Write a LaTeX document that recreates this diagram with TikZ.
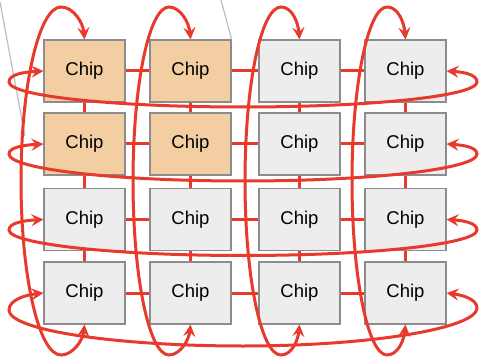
\documentclass[tikz,border=0pt]{standalone}
\usepackage{fontspec}
\setmainfont{Liberation Sans}
\usepackage{tikz}
\usetikzlibrary{arrows.meta,positioning}
\usepackage{xcolor}
\definecolor{chipgray}{RGB}{237,237,237}
\definecolor{chiporange}{RGB}{242,206,162}
\definecolor{chipedge}{RGB}{140,140,140}
\definecolor{torusred}{RGB}{232,58,44}
\definecolor{zoomgray}{RGB}{185,190,198}
\tikzstyle{chip} = [rectangle, minimum width=81pt, minimum height=62pt, inner sep=0pt, text centered, draw=chipedge, fill=chipgray, line width=1.2pt, font=\fontsize{18.5}{20}\selectfont]
\tikzstyle{hot} = [chip, fill=chiporange]
\tikzstyle{link} = [line width=3pt, color=torusred]
\tikzstyle{wrap} = [line width=3pt, color=torusred, {Stealth[length=12pt,width=12pt,inset=4.5pt]}-{Stealth[length=12pt,width=12pt,inset=4.5pt]}]
\tikzstyle{zoomline} = [line width=1.2pt, color=zoomgray]

\begin{document}
\begin{tikzpicture}[x=1pt,y=-1pt]
\useasboundingbox (0,0) rectangle (479,358);

% Chips
\node[hot] (c11) at (84.5,71) {Chip};
\node[hot] (c12) at (190.5,71) {Chip};
\node[chip] (c13) at (299.5,71) {Chip};
\node[chip] (c14) at (405.5,71) {Chip};
\node[hot] (c21) at (84.5,144) {Chip};
\node[hot] (c22) at (190.5,144) {Chip};
\node[chip] (c23) at (299.5,144) {Chip};
\node[chip] (c24) at (405.5,144) {Chip};
\node[chip] (c31) at (84.5,219.5) {Chip};
\node[chip] (c32) at (190.5,219.5) {Chip};
\node[chip] (c33) at (299.5,219.5) {Chip};
\node[chip] (c34) at (405.5,219.5) {Chip};
\node[chip] (c41) at (84.5,293) {Chip};
\node[chip] (c42) at (190.5,293) {Chip};
\node[chip] (c43) at (299.5,293) {Chip};
\node[chip] (c44) at (405.5,293) {Chip};

% Zoom lines
\coordinate (zl) at (0,2);
\coordinate (zlend) at (25,136);
\coordinate (zr) at (221,0);
\draw[zoomline] (zl) -- (zlend);
\draw[zoomline] (zr) -- (c12.north east);

% Mesh links
\draw[link] (c11) -- (c12) -- (c13) -- (c14);
\draw[link] (c21) -- (c22) -- (c23) -- (c24);
\draw[link] (c31) -- (c32) -- (c33) -- (c34);
\draw[link] (c41) -- (c42) -- (c43) -- (c44);
\draw[link] (c11) -- (c21) -- (c31) -- (c41);
\draw[link] (c12) -- (c22) -- (c32) -- (c42);
\draw[link] (c13) -- (c23) -- (c33) -- (c43);
\draw[link] (c14) -- (c24) -- (c34) -- (c44);

% Row wrap-arounds
\draw[wrap] (c11.west) .. controls (25,72) and (9,74) .. (9,82) .. controls (9,96) and (114,107) .. (243,107) .. controls (372,107) and (477,96) .. (477,82) .. controls (477,74) and (462,72) .. (c14.east);
\draw[wrap] (c21.west) .. controls (25,145) and (9,147) .. (9,154) .. controls (9,169) and (114,181) .. (243,181) .. controls (372,181) and (477,169) .. (477,154) .. controls (477,147) and (462,145) .. (c24.east);
\draw[wrap] (c31.west) .. controls (25,220.5) and (9,222.5) .. (9,230) .. controls (9,244) and (114,255.5) .. (243,255.5) .. controls (372,255.5) and (477,244) .. (477,230) .. controls (477,222.5) and (462,220.5) .. (c34.east);
\draw[wrap] (c41.west) .. controls (25,295) and (9,300) .. (9,310) .. controls (9,330) and (114,346) .. (243,346) .. controls (372,346) and (477,328) .. (477,308) .. controls (477,299) and (462,295) .. (c44.east);

% Column wrap-arounds
\draw[wrap] (c41.south) .. controls (83,340) and (73,355) .. (61,355) .. controls (39,355) and (21,277) .. (21,181) .. controls (21,85) and (39,7) .. (61,7) .. controls (73,7) and (83,22) .. (c11.north);
\draw[wrap] (c42.south) .. controls (189,340) and (180,355) .. (169,355) .. controls (149,355) and (133,277) .. (133,181) .. controls (133,85) and (149,7) .. (169,7) .. controls (180,7) and (189,22) .. (c12.north);
\draw[wrap] (c43.south) .. controls (298,340) and (292,355) .. (281,355) .. controls (261,355) and (245,277) .. (245,181) .. controls (245,85) and (261,7) .. (281,7) .. controls (292,7) and (298,22) .. (c13.north);
\draw[wrap] (c44.south) .. controls (404,340) and (398,355) .. (387,355) .. controls (368,355) and (352,277) .. (352,181) .. controls (352,85) and (368,7) .. (387,7) .. controls (398,7) and (404,22) .. (c14.north);
\end{tikzpicture}
\end{document}
